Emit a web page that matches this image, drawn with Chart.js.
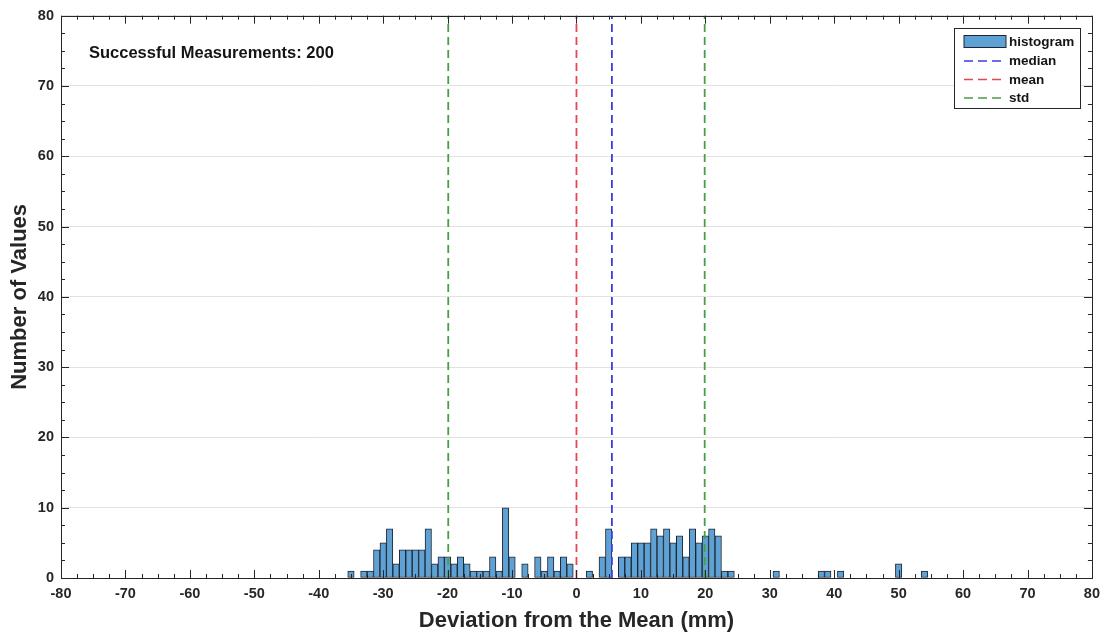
<!DOCTYPE html>
<html>
<head>
<meta charset="utf-8">
<script src="https://cdn.jsdelivr.net/npm/chart.js@4"></script>
<style>
html,body{margin:0;padding:0;background:#fff;}
#wrap{width:1107px;height:634px;position:relative;}
</style>
</head>
<body>
<div id="wrap"><canvas id="c" width="1107" height="634"></canvas></div>
<script>
// ---- data ----
const binCenters = [
  -35,-34,-33,-32,-31,-30,-29,-28,-27,-26,-25,-24,-23,-22,-21,-20,-19,-18,-17,-16,
  -15,-14,-13,-12,-11,-10,-9,-8,-7,-6,-5,-4,-3,-2,-1,0,1,2,3,4,
  5,6,7,8,9,10,11,12,13,14,15,16,17,18,19,20,21,22,23,24,
  25,26,27,28,29,30,31,32,33,34,35,36,37,38,39,40,41,42,43,44,
  45,46,47,48,49,50,51,52,53,54
];
const counts = [
  1,0,1,1,4,5,7,2,4,4,4,4,7,2,3,3,2,3,2,1,
  1,1,3,1,10,3,0,2,0,3,1,3,1,3,2,0,0,1,0,3,
  7,0,3,3,5,5,5,7,6,7,5,6,3,7,5,6,7,6,1,1,
  0,0,0,0,0,0,1,0,0,0,0,0,0,1,1,0,1,0,0,0,
  0,0,0,0,0,2,0,0,0,1
];
const meanValue = 0;
const medianValue = 5.5;
const stdValue = 19.9;
const xRange = [-80, 80];
const yRange = [0, 80];
const xTickStep = 10;
const yTickStep = 10;
const minorStep = 2.5;
const annotationText = 'Successful Measurements: 200';
const legendLabels = ['histogram', 'median', 'mean', 'std'];

// ---- styles ----
const FONT = "'Liberation Sans', Arial, sans-serif";
const TXT = '#262626';
const barFill = '#5ea2d5';
const barEdge = '#1f2530';
const cMedian = '#3c3ce0';
const cMean = '#e8454f';
const cStd = '#45a045';
const DASH = [8, 5];

const histData = [];
binCenters.forEach((b, i) => { if (counts[i] > 0) histData.push({x: b, y: counts[i]}); });

function vline(v) { return [{x: v, y: yRange[0]}, {x: v, y: yRange[1]}]; }

const framePlugin = {
  id: 'frame',
  afterDatasetsDraw(chart) {
    const {ctx, chartArea: a, scales: {x, y}} = chart;
    ctx.save();
    ctx.strokeStyle = TXT;
    ctx.lineWidth = 1;
    ctx.beginPath();
    for (let v = xRange[0]; v <= xRange[1] + 1e-9; v += minorStep) {
      const px = Math.round(x.getPixelForValue(v)) + 0.5;
      const major = Math.abs(v / xTickStep - Math.round(v / xTickStep)) < 1e-9;
      const L = major ? 8 : 4;
      ctx.moveTo(px, a.bottom); ctx.lineTo(px, a.bottom - L);
      ctx.moveTo(px, a.top); ctx.lineTo(px, a.top + L);
    }
    for (let v = yRange[0]; v <= yRange[1] + 1e-9; v += minorStep) {
      const py = Math.round(y.getPixelForValue(v)) + 0.5;
      const major = Math.abs(v / yTickStep - Math.round(v / yTickStep)) < 1e-9;
      const L = major ? 8 : 4;
      ctx.moveTo(a.left, py); ctx.lineTo(a.left + L, py);
      ctx.moveTo(a.right, py); ctx.lineTo(a.right - L, py);
    }
    ctx.stroke();
    ctx.strokeRect(Math.round(a.left) + 0.5, Math.round(a.top) + 0.5,
                   Math.round(a.right - a.left), Math.round(a.bottom - a.top));
    ctx.restore();
  },
  afterDraw(chart) {
    const {ctx, chartArea: a} = chart;
    ctx.save();
    ctx.fillStyle = '#141414';
    ctx.font = "bold 16.5px " + FONT;
    ctx.textBaseline = 'middle';
    ctx.textAlign = 'left';
    ctx.fillText(annotationText, a.left + 28, a.top + 38);
    const bw = 126, bh = 80;
    const bx = Math.round(a.right - 12 - bw) + 0.5;
    const by = Math.round(a.top + 12) + 0.5;
    ctx.fillStyle = '#fff';
    ctx.fillRect(bx, by, bw, bh);
    ctx.strokeStyle = TXT;
    ctx.lineWidth = 1;
    ctx.strokeRect(bx, by, bw, bh);
    const sx = bx + 9.5, sw = 42;
    const rowY = [by + 13, by + 32.5, by + 51, by + 69.5];
    ctx.fillStyle = barFill;
    ctx.fillRect(sx, rowY[0] - 6, sw, 12);
    ctx.strokeStyle = barEdge;
    ctx.strokeRect(sx, rowY[0] - 6, sw, 12);
    const lc = [null, cMedian, cMean, cStd];
    for (let i = 1; i < 4; i++) {
      ctx.strokeStyle = lc[i];
      ctx.lineWidth = 1.3;
      ctx.setLineDash([9, 5]);
      ctx.beginPath();
      ctx.moveTo(sx, rowY[i]); ctx.lineTo(sx + sw, rowY[i]);
      ctx.stroke();
    }
    ctx.setLineDash([]);
    ctx.fillStyle = '#141414';
    ctx.font = "bold 13.5px " + FONT;
    for (let i = 0; i < 4; i++) ctx.fillText(legendLabels[i], sx + sw + 3, rowY[i] + 0.5);
    ctx.restore();
  }
};

new Chart(document.getElementById('c'), {
  type: 'bar',
  data: {
    datasets: [
      { type: 'line', label: 'median', data: vline(medianValue), borderColor: cMedian, borderWidth: 1.8,
        borderDash: DASH, pointRadius: 0, fill: false, order: 0 },
      { type: 'line', label: 'mean', data: vline(meanValue), borderColor: cMean, borderWidth: 1.8,
        borderDash: DASH, pointRadius: 0, fill: false, order: 0 },
      { type: 'line', label: 'std', data: [...vline(-stdValue), {x: 0, y: null}, ...vline(stdValue)],
        borderColor: cStd, borderWidth: 1.8, borderDash: DASH, pointRadius: 0, fill: false,
        spanGaps: false, order: 0 },
      { type: 'bar', label: 'histogram', data: histData, backgroundColor: barFill, borderColor: barEdge,
        borderWidth: 1, borderSkipped: false, barPercentage: 1, categoryPercentage: 1, order: 1 }
    ]
  },
  options: {
    responsive: false,
    animation: false,
    devicePixelRatio: 1,
    layout: { padding: { left: 1, top: 15, right: 13, bottom: 0 } },
    plugins: { legend: { display: false }, tooltip: { enabled: false } },
    scales: {
      x: {
        type: 'linear', min: xRange[0], max: xRange[1], offset: false,
        afterFit(s) { s.height = 56; },
        grid: { display: false, drawTicks: false },
        border: { display: false },
        ticks: { stepSize: xTickStep, padding: 7, color: TXT, maxRotation: 0,
                 font: { family: FONT, size: 14.5, weight: 'bold' } },
        title: { display: true, text: 'Deviation from the Mean (mm)', color: TXT,
                 padding: { top: 0, bottom: 0 }, font: { family: FONT, size: 22, weight: 'bold', lineHeight: 1.2 } }
      },
      y: {
        min: yRange[0], max: yRange[1],
        afterFit(s) { s.width = 60; },
        grid: { color: '#e2e2e2', lineWidth: 1, drawTicks: false },
        border: { display: false },
        ticks: { stepSize: yTickStep, padding: 7, color: TXT,
                 font: { family: FONT, size: 14.5, weight: 'bold' } },
        title: { display: true, text: 'Number of Values', color: TXT,
                 padding: { top: 6, bottom: 0 }, font: { family: FONT, size: 22, weight: 'bold', lineHeight: 1.2 } }
      }
    }
  },
  plugins: [framePlugin]
});
</script>
</body>
</html>
